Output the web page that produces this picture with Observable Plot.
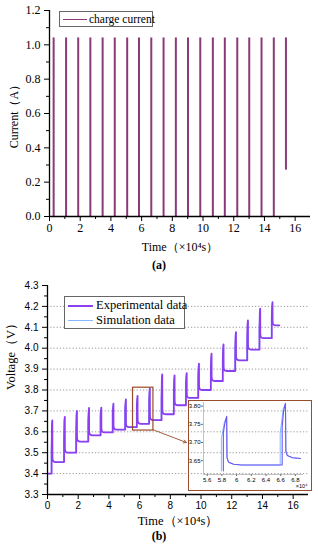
<!DOCTYPE html>
<html>
<head>
<meta charset="utf-8">
<script src="https://cdn.jsdelivr.net/npm/d3@7"></script>
<script src="https://cdn.jsdelivr.net/npm/@observablehq/plot@0.6"></script>
<style>
  body { margin: 0; background: #fff; }
  #page { position: relative; width: 318px; height: 550px; overflow: hidden; font-family: "Liberation Serif", serif; color: #000; }
  .cap { width: 318px; text-align: center; font-weight: bold; font-size: 12px; line-height: 14px; }
  .legend { border: 1px solid #666; background: #fff; box-sizing: border-box; }
  .lrow { position: absolute; white-space: nowrap; line-height: 1; }
  .lline { position: absolute; }
  #inset { border: 1.5px solid #9a4b2b; box-sizing: border-box; }
</style>
</head>
<body>
<div id="page"></div>
<script>
// ---------- data ----------
const timeTicks = [0, 2, 4, 6, 8, 10, 12, 14, 16];
const timeMinorTicks = [1, 3, 5, 7, 9, 11, 13, 15];
const currentTicks = [0, 0.2, 0.4, 0.6, 0.8, 1.0, 1.2];
const currentMinorTicks = [0.1, 0.3, 0.5, 0.7, 0.9, 1.1];
const voltageTicks = [3.3, 3.4, 3.5, 3.6, 3.7, 3.8, 3.9, 4.0, 4.1, 4.2, 4.3];
const voltageMinorTicks = [3.35, 3.45, 3.55, 3.65, 3.75, 3.85, 3.95, 4.05, 4.15, 4.25];
const voltageGrid = [3.4, 3.5, 3.6, 3.7, 3.8, 3.9, 4.0, 4.1, 4.2];
const insetXTicks = [5.6, 5.8, 6, 6.2, 6.4, 6.6, 6.8];
const insetYTicks = [3.65, 3.70, 3.75, 3.80];

// charge current pulses (×10^4 s, A)
const currentPulseTimes = [0.27, 1.08, 1.87, 2.66, 3.46, 4.25, 5.06, 5.83, 6.63, 7.43, 8.23, 9.02, 9.82, 10.64, 11.42, 12.23, 13.01, 13.81, 14.61, 15.40];
const currentHigh = [1.04, 1.04, 1.04, 1.04, 1.04, 1.04, 1.04, 1.04, 1.04, 1.04, 1.04, 1.04, 1.04, 1.04, 1.04, 1.04, 1.04, 1.04, 1.04, 1.04];
const currentLow = [0, 0, 0, 0, 0, 0, 0, 0, 0, 0, 0, 0, 0, 0, 0, 0, 0, 0, 0, 0.27];

// voltage: pulse start times, rest levels (before each pulse + final), peak levels
const voltPulseTimes = [0.27, 1.08, 1.87, 2.66, 3.46, 4.25, 5.06, 5.82, 6.62, 7.43, 8.23, 9.02, 9.82, 10.64, 11.42, 12.23, 13.01, 13.81, 14.61];
const restLevels = [3.400, 3.455, 3.500, 3.553, 3.583, 3.597, 3.610, 3.622, 3.638, 3.656, 3.684, 3.727, 3.762, 3.800, 3.843, 3.891, 3.942, 3.993, 4.048, 4.109];
const peakLevels = [3.655, 3.671, 3.700, 3.714, 3.716, 3.735, 3.755, 3.772, 3.808, 3.875, 3.870, 3.881, 3.926, 3.974, 4.018, 4.077, 4.133, 4.189, 4.220];
const voltEndTime = 15.1;

// zoom window (also the inset's domains) and arrow target
const zoomX = [5.57, 6.90];
const zoomY = [3.606, 3.811];
const arrowTarget = {x: 9.04, y: 3.549};

// ---------- pulse shape (offsets of one charge pulse) ----------
const expShape = [[0, "r0"], [0, 0.105], [0.02, -0.02, "p"], [0.045, 0, "p"], [0.05, 0.020, "r1"], [0.07, 0.008, "r1"], [0.14, 0.002, "r1"], [0.25, 0, "r1"]];
const simShape = [[-0.027, "r0"], [-0.027, 0.088], [0.015, -0.015, "p"], [0.045, -0.002, "p"], [0.05, 0.020, "r1"], [0.07, 0.008, "r1"], [0.14, 0.002, "r1"], [0.25, 0, "r1"]];

function buildSeries(shape) {
  const pts = [{t: 0, v: restLevels[0]}];
  voltPulseTimes.forEach((t, k) => {
    for (const s of shape) {
      let v;
      if (s[1] === "r0") v = restLevels[k];
      else if (s[2] === "p") v = peakLevels[k] + s[1];
      else if (s[2] === "r1") v = restLevels[k + 1] + s[1];
      else v = restLevels[k] + s[1];
      pts.push({t: t + s[0], v});
    }
  });
  pts.push({t: voltEndTime, v: restLevels[restLevels.length - 1]});
  return pts;
}
const expData = buildSeries(expShape);
const simData = buildSeries(simShape);
const currentData = currentPulseTimes.map((t, i) => ({t, low: currentLow[i], high: currentHigh[i]}));

// ---------- styles ----------
const currentColor = "#8a3a78";
const expColor = "#8a3ff0";
const simColor = "#86b8ff";
const boxColor = "#9a4b2b";
const serif = '"Liberation Serif", "Times New Roman", serif';
const sans = '"Liberation Sans", Arial, sans-serif';

const page = document.getElementById("page");
function place(el, left, top) { el.style.position = "absolute"; el.style.left = left + "px"; el.style.top = top + "px"; page.appendChild(el); return el; }

// ---------- (a) current ----------
const chartA = Plot.plot({
  width: 318, height: 256,
  marginLeft: 49, marginRight: 8, marginTop: 10, marginBottom: 40,
  style: {fontFamily: serif, fontSize: "12px", background: "transparent", overflow: "visible", color: "#000"},
  x: {domain: [0, 17]},
  y: {domain: [0, 1.2]},
  marks: [
    Plot.ruleX(currentData, {x: "t", y1: "low", y2: "high", stroke: currentColor, strokeWidth: 2}),
    Plot.axisX({ticks: timeTicks, tickSize: 5, tickFormat: d => `${d}`, tickPadding: 2, label: "Time（×10⁴s）", labelAnchor: "center", labelArrow: "none", labelOffset: 34, fontSize: 12}),
    Plot.axisX({ticks: timeMinorTicks, tickSize: 3, text: null, label: null}),
    Plot.axisY({ticks: currentTicks, tickSize: 5, tickFormat: d3.format(".1f"), label: "Current（A）", labelAnchor: "center", labelArrow: "none", labelOffset: 40, fontSize: 12}),
    Plot.axisY({ticks: currentMinorTicks, tickSize: 3, text: null, label: null}),
    Plot.ruleX([0], {stroke: "#000", strokeWidth: 1.3}),
    Plot.ruleY([0], {stroke: "#000", strokeWidth: 1.3})
  ]
});
place(chartA, 0, 0);

const capA = document.createElement("div");
capA.className = "cap"; capA.textContent = "(a)";
place(capA, 0, 258);

// legend (a)
const legA = document.createElement("div");
legA.className = "legend";
legA.style.width = "94px"; legA.style.height = "16px";
legA.innerHTML = `<div class="lline" style="left:3px;top:7px;width:24px;height:1px;background:${currentColor}"></div>
<div class="lrow" style="left:29px;top:2px;font-size:11.5px;">charge current</div>`;
place(legA, 59, 11);

// ---------- (b) voltage ----------
const chartB = Plot.plot({
  width: 318, height: 256,
  marginLeft: 47, marginRight: 10, marginTop: 11, marginBottom: 36,
  style: {fontFamily: sans, fontSize: "10px", background: "transparent", overflow: "visible", color: "#000"},
  x: {domain: [0, 17]},
  y: {domain: [3.3, 4.3]},
  marks: [
    Plot.gridY(voltageGrid, {stroke: "#999", strokeOpacity: 1, strokeDasharray: "1.2,2"}),
    Plot.line(simData, {x: "t", y: "v", stroke: simColor, strokeWidth: 1}),
    Plot.line(expData, {x: "t", y: "v", stroke: expColor, strokeWidth: 1.8}),
    Plot.rect([{x1: zoomX[0], x2: zoomX[1], y1: zoomY[0], y2: zoomY[1]}], {x1: "x1", x2: "x2", y1: "y1", y2: "y2", fill: "none", stroke: boxColor, strokeWidth: 1.2}),
    Plot.arrow([{x1: zoomX[1] - 0.03, y1: zoomY[0] + 0.004, x2: arrowTarget.x, y2: arrowTarget.y}], {x1: "x1", y1: "y1", x2: "x2", y2: "y2", stroke: boxColor, strokeWidth: 0.9, headLength: 5}),
    Plot.axisX({ticks: timeTicks, tickSize: 5, tickFormat: d => `${d}`, tickPadding: 2, fontSize: 10, label: null}),
    Plot.axisX({ticks: timeMinorTicks, tickSize: 3, text: null, label: null}),
    Plot.axisY({ticks: voltageTicks, tickSize: 5, tickFormat: d3.format(".1f"), fontSize: 10, label: null}),
    Plot.axisY({ticks: voltageMinorTicks, tickSize: 3, text: null, label: null}),
    Plot.ruleX([0], {stroke: "#000", strokeWidth: 1.3}),
    Plot.ruleY([3.3], {stroke: "#000", strokeWidth: 1.3}),
    Plot.text(["Time（×10⁴s）"], {frameAnchor: "bottom", dy: 30, fontFamily: serif, fontSize: 12.5}),
    Plot.text(["Voltage（V）"], {frameAnchor: "left", dx: -37, rotate: -90, fontFamily: serif, fontSize: 12.5})
  ]
});
place(chartB, 0, 274);

const capB = document.createElement("div");
capB.className = "cap"; capB.textContent = "(b)";
place(capB, 0, 529);

// legend (b)
const legB = document.createElement("div");
legB.className = "legend";
legB.style.width = "121px"; legB.style.height = "33px";
legB.innerHTML = `<div class="lline" style="left:3px;top:8px;width:25px;height:2px;background:${expColor}"></div>
<div class="lrow" style="left:31px;top:2px;font-size:12.5px;">Experimental data</div>
<div class="lline" style="left:3px;top:23px;width:25px;height:1px;background:${simColor}"></div>
<div class="lrow" style="left:31px;top:17px;font-size:12.5px;">Simulation data</div>`;
place(legB, 64, 296);

// ---------- inset ----------
const insetBox = document.createElement("div");
insetBox.id = "inset";
insetBox.style.width = "124px"; insetBox.style.height = "91px";
place(insetBox, 188, 400);

const inRange = d => d.t >= 5.4 && d.t <= 7.0;
const inset = Plot.plot({
  width: 121, height: 88,
  marginLeft: 14, marginRight: 7, marginTop: 1, marginBottom: 15,
  style: {fontFamily: sans, fontSize: "6px", background: "transparent", overflow: "visible", color: "#000"},
  x: {domain: [5.55, 6.91]},
  y: {domain: [3.612, 3.81]},
  marks: [
    Plot.line(simData.filter(inRange), {x: "t", y: "v", stroke: simColor, strokeWidth: 1, clip: true}),
    Plot.line(expData.filter(inRange), {x: "t", y: "v", stroke: "#6c58ee", strokeWidth: 1.1, clip: true}),
    Plot.axisX({ticks: insetXTicks, tickSize: 2, tickPadding: 1, tickFormat: d => `${d}`, fontSize: 6, label: null, stroke: "#666"}),
    Plot.axisY({ticks: insetYTicks, tickSize: 2, tickPadding: 1, tickFormat: d3.format(".2f"), fontSize: 6, label: null, stroke: "#666"}),
    Plot.text(["×10⁴"], {frameAnchor: "bottom-right", dy: 13, dx: 4, textAnchor: "end", fontSize: 5.5}),
    Plot.ruleX([5.55], {stroke: "#999", strokeWidth: 0.6}),
    Plot.ruleY([3.612], {stroke: "#999", strokeWidth: 0.6})
  ]
});
inset.style.position = "absolute"; inset.style.left = "0px"; inset.style.top = "0px";
insetBox.appendChild(inset);
</script>
</body>
</html>
